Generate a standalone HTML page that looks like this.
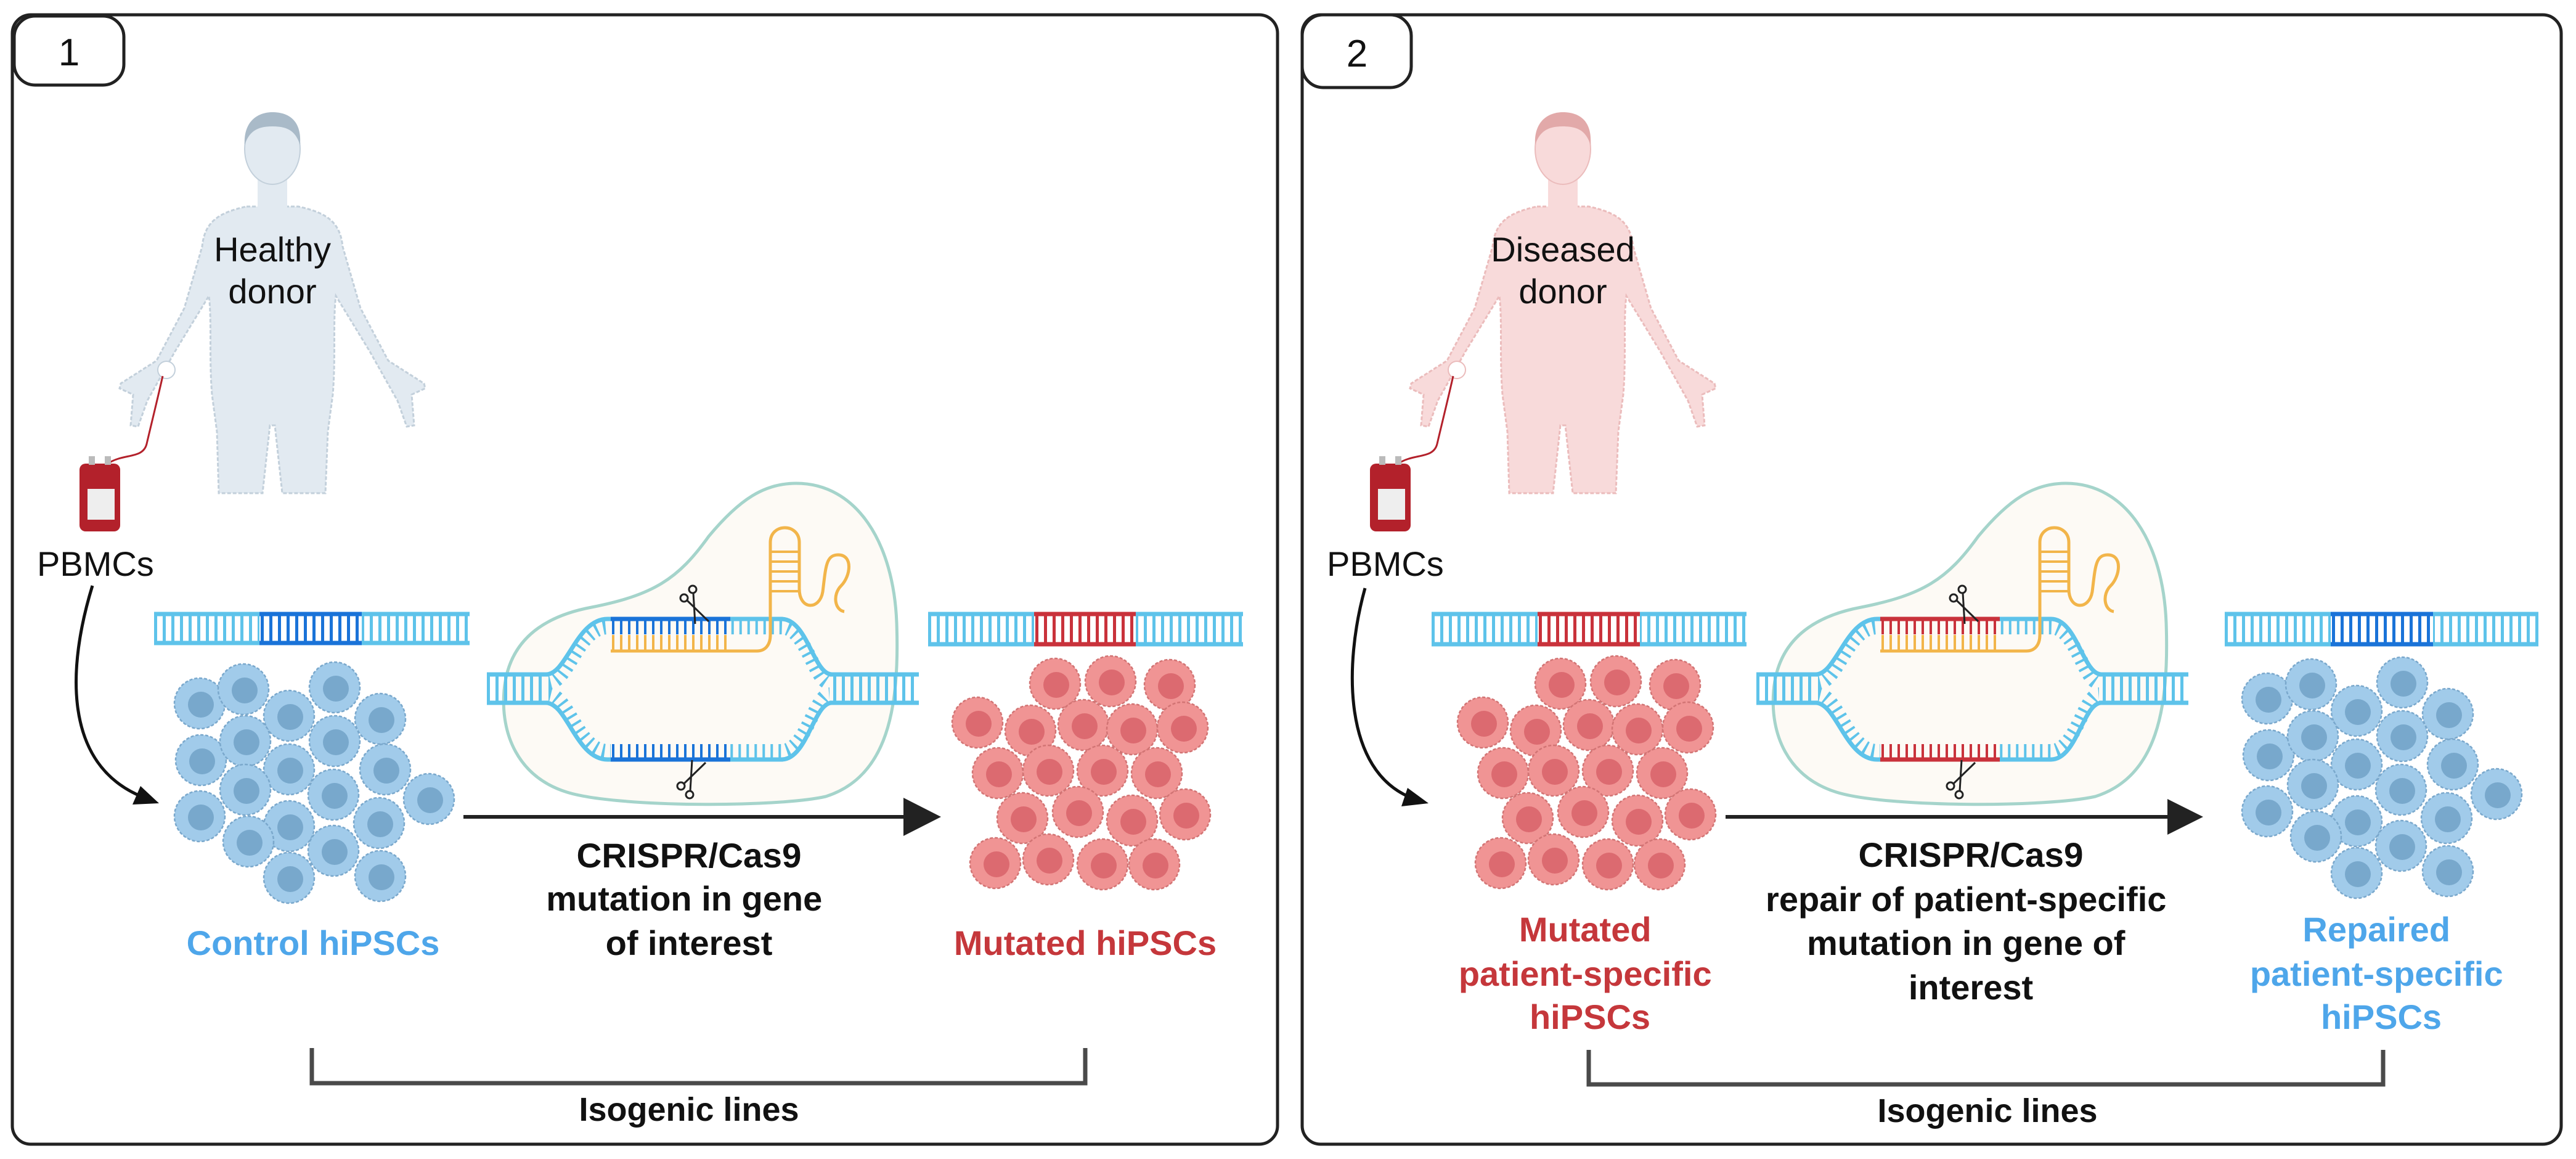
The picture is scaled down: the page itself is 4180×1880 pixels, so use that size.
<!DOCTYPE html>
<html><head><meta charset="utf-8">
<style>
html,body{margin:0;padding:0;background:#fff;}
svg{display:block;}
text{font-family:"Liberation Sans",Arial,sans-serif;}
</style></head>
<body>
<svg width="4180" height="1880" viewBox="0 0 4180 1880" xmlns="http://www.w3.org/2000/svg">
<defs>
<g id="rcell"><circle r="41" fill="#f09494" stroke="#d27474" stroke-width="2.5" stroke-dasharray="5 3"/><circle cx="2" cy="2" r="21" fill="#dc6a70"/></g>
<g id="bcell"><circle r="41" fill="#a1cbea" stroke="#7aa8cc" stroke-width="2.5" stroke-dasharray="5 3"/><circle cx="2" cy="2" r="21" fill="#78a8cc"/></g>
<g id="scis" fill="none" stroke="#222" stroke-width="3">
<circle cx="-20" cy="-30" r="6"/><circle cx="-6" cy="-44" r="6"/>
<line x1="-15" y1="-26" x2="20" y2="8"/><line x1="-5" y1="-38" x2="-2" y2="12"/>
</g>
</defs>

<rect x="20" y="24" width="2053" height="1832" rx="30" fill="#fff" stroke="#222" stroke-width="5"/>
<rect x="23" y="26" width="178" height="112" rx="34" fill="#fff" stroke="#222" stroke-width="5"/>
<text x="112" y="106" font-size="62" text-anchor="middle" fill="#111">1</text>
<rect x="2113" y="24" width="2043" height="1832" rx="30" fill="#fff" stroke="#222" stroke-width="5"/>
<rect x="2113" y="24" width="177" height="118" rx="34" fill="#fff" stroke="#222" stroke-width="5"/>
<text x="2202" y="108" font-size="62" text-anchor="middle" fill="#111">2</text>

<g id="human1">
<path d="M400,335 L484,335 C530,345 552,360 556,400 L585,500 L630,585 L688,622 L690,630 L668,640 L672,690 L660,692 L645,650 L600,570 L545,480 C540,520 545,580 540,640 L532,700 L528,800 L458,800 L446,690 L438,690 L426,800 L355,800 L352,700 L344,640 C339,580 344,520 339,480 L284,570 L239,650 L224,692 L212,690 L216,640 L194,630 L196,622 L254,585 L299,500 L328,400 C332,360 354,345 400,335 Z" fill="#e2eaf1" stroke="#c3d0db" stroke-width="3" stroke-dasharray="6 3"/>
<rect x="418" y="285" width="48" height="60" fill="#e2eaf1"/>
<ellipse cx="442" cy="242" rx="45" ry="57" fill="#e2eaf1" stroke="#c3d0db" stroke-width="2"/>
<path d="M397,235 C395,195 420,182 442,182 C468,182 490,195 487,235 C480,215 470,205 442,205 C415,205 404,215 397,235 Z" fill="#a9bac8"/>
</g>
<text x="442" y="424" font-size="56" text-anchor="middle" fill="#111">Healthy</text>
<text x="442" y="492" font-size="56" text-anchor="middle" fill="#111">donor</text>
<circle cx="270" cy="600" r="14" fill="#fff" stroke="#c3d0db" stroke-width="2"/>
<path d="M264,610 C255,650 245,690 238,720 C232,745 200,735 175,752" fill="none" stroke="#b3212b" stroke-width="3"/>
<rect x="129" y="752" width="66" height="110" rx="10" fill="#b3212b"/>
<rect x="142" y="793" width="44" height="50" fill="#eee"/>
<rect x="144" y="740" width="10" height="14" fill="#bbb"/><rect x="170" y="740" width="10" height="14" fill="#bbb"/>
<text x="60" y="934" font-size="56" fill="#111">PBMCs</text>
<path d="M150,950 C110,1080 100,1240 232,1293" fill="none" stroke="#111" stroke-width="5"/>
<polygon points="258,1303 215,1305 228,1275" fill="#111"/>

<g>
<line x1="250" y1="1019" x2="762" y2="1019" stroke="#5ec3ea" stroke-width="46" stroke-dasharray="5 9"/>
<line x1="250" y1="996" x2="762" y2="996" stroke="#5ec3ea" stroke-width="7"/>
<line x1="250" y1="1043" x2="762" y2="1043" stroke="#5ec3ea" stroke-width="7"/>
<line x1="421" y1="1019" x2="587" y2="1019" stroke="#fff" stroke-width="46"/>
<line x1="423" y1="1019" x2="587" y2="1019" stroke="#1a73d8" stroke-width="46" stroke-dasharray="5 9"/>
<line x1="421" y1="996" x2="587" y2="996" stroke="#1a73d8" stroke-width="7"/>
<line x1="421" y1="1043" x2="587" y2="1043" stroke="#1a73d8" stroke-width="7"/>
</g>
<g>
<line x1="1506" y1="1020" x2="2017" y2="1020" stroke="#5ec3ea" stroke-width="46" stroke-dasharray="5 9"/>
<line x1="1506" y1="996" x2="2017" y2="996" stroke="#5ec3ea" stroke-width="7"/>
<line x1="1506" y1="1045" x2="2017" y2="1045" stroke="#5ec3ea" stroke-width="7"/>
<line x1="1678" y1="1020" x2="1843" y2="1020" stroke="#fff" stroke-width="46"/>
<line x1="1680" y1="1020" x2="1843" y2="1020" stroke="#c9323b" stroke-width="46" stroke-dasharray="5 9"/>
<line x1="1678" y1="996" x2="1843" y2="996" stroke="#c9323b" stroke-width="7"/>
<line x1="1678" y1="1045" x2="1843" y2="1045" stroke="#c9323b" stroke-width="7"/>
</g>

<g id="bclust">
<use href="#bcell" x="324" y="1141"/><use href="#bcell" x="395" y="1118"/><use href="#bcell" x="543" y="1115"/>
<use href="#bcell" x="469" y="1161"/><use href="#bcell" x="617" y="1166"/>
<use href="#bcell" x="326" y="1233"/><use href="#bcell" x="398" y="1202"/><use href="#bcell" x="543" y="1202"/>
<use href="#bcell" x="469" y="1248"/><use href="#bcell" x="625" y="1248"/><use href="#bcell" x="696" y="1296"/>
<use href="#bcell" x="398" y="1281"/><use href="#bcell" x="541" y="1289"/>
<use href="#bcell" x="324" y="1324"/><use href="#bcell" x="469" y="1340"/><use href="#bcell" x="615" y="1335"/>
<use href="#bcell" x="403" y="1365"/><use href="#bcell" x="541" y="1380"/>
<use href="#bcell" x="469" y="1424"/><use href="#bcell" x="617" y="1421"/>
</g>
<g id="rclust">
<use href="#rcell" x="1712" y="1109"/><use href="#rcell" x="1802" y="1105"/><use href="#rcell" x="1898" y="1111"/>
<use href="#rcell" x="1586" y="1172"/><use href="#rcell" x="1672" y="1185"/><use href="#rcell" x="1758" y="1176"/><use href="#rcell" x="1837" y="1183"/><use href="#rcell" x="1919" y="1180"/>
<use href="#rcell" x="1619" y="1254"/><use href="#rcell" x="1701" y="1250"/><use href="#rcell" x="1789" y="1250"/><use href="#rcell" x="1877" y="1254"/>
<use href="#rcell" x="1659" y="1327"/><use href="#rcell" x="1749" y="1317"/><use href="#rcell" x="1837" y="1331"/><use href="#rcell" x="1923" y="1321"/>
<use href="#rcell" x="1615" y="1400"/><use href="#rcell" x="1701" y="1394"/><use href="#rcell" x="1789" y="1402"/><use href="#rcell" x="1873" y="1402"/>
</g>

<g id="cas1">
<path d="M1292,784 C1390,784 1450,880 1455,1010 C1460,1150 1440,1260 1340,1292 C1260,1310 1000,1310 920,1285 C840,1260 812,1190 818,1120 C825,1040 880,1000 960,985 C1060,965 1100,940 1150,870 C1200,810 1240,784 1292,784 Z" fill="#fdfaf5" stroke="#a5d4cb" stroke-width="5"/>
<line x1="790" y1="1117" x2="886" y2="1117" stroke="#5ec3ea" stroke-width="44" stroke-dasharray="5 9"/>
<line x1="790" y1="1094" x2="890" y2="1094" stroke="#5ec3ea" stroke-width="7"/>
<line x1="790" y1="1140" x2="890" y2="1140" stroke="#5ec3ea" stroke-width="7"/>
<line x1="1352" y1="1117" x2="1491" y2="1117" stroke="#5ec3ea" stroke-width="44" stroke-dasharray="5 9"/>
<line x1="1346" y1="1094" x2="1491" y2="1094" stroke="#5ec3ea" stroke-width="7"/>
<line x1="1346" y1="1140" x2="1491" y2="1140" stroke="#5ec3ea" stroke-width="7"/>
<path d="M890,1108 C922,1108 938,1018 986,1018 L1268,1018 C1308,1018 1322,1108 1346,1108" fill="none" stroke="#5ec3ea" stroke-width="22" stroke-dasharray="4 9"/>
<path d="M890,1126 C922,1126 938,1218 986,1218 L1268,1218 C1308,1218 1322,1126 1346,1126" fill="none" stroke="#5ec3ea" stroke-width="22" stroke-dasharray="4 9"/>
<path d="M886,1094 C920,1094 935,1004 986,1004 L1268,1004 C1310,1004 1320,1094 1350,1094" fill="none" stroke="#5ec3ea" stroke-width="7"/>
<path d="M886,1140 C920,1140 935,1232 986,1232 L1268,1232 C1310,1232 1320,1140 1350,1140" fill="none" stroke="#5ec3ea" stroke-width="7"/>
<line x1="991" y1="1017" x2="1185" y2="1017" stroke="#fdfaf5" stroke-width="24"/>
<line x1="993" y1="1017" x2="1185" y2="1017" stroke="#1a73d8" stroke-width="24" stroke-dasharray="4 9"/>
<line x1="991" y1="1004" x2="1185" y2="1004" stroke="#1a73d8" stroke-width="7"/>
<line x1="991" y1="1219" x2="1185" y2="1219" stroke="#fdfaf5" stroke-width="24"/>
<line x1="993" y1="1219" x2="1185" y2="1219" stroke="#1a73d8" stroke-width="24" stroke-dasharray="4 9"/>
<line x1="991" y1="1232" x2="1185" y2="1232" stroke="#1a73d8" stroke-width="7"/>
<line x1="993" y1="1043" x2="1185" y2="1043" stroke="#f2b54a" stroke-width="26" stroke-dasharray="4 9"/>
<path d="M991,1056 L1228,1056 C1242,1056 1250,1046 1250,1030 L1250,880 C1250,848 1297,848 1297,880 L1297,955 C1297,990 1330,990 1335,960 C1340,920 1340,900 1360,900 C1385,900 1380,935 1365,950 C1350,965 1355,990 1370,992" fill="none" stroke="#f2b54a" stroke-width="5"/>
<g stroke="#f2b54a" stroke-width="4">
<line x1="1250" y1="895" x2="1297" y2="895"/><line x1="1250" y1="911" x2="1297" y2="911"/><line x1="1250" y1="927" x2="1297" y2="927"/><line x1="1250" y1="943" x2="1297" y2="943"/><line x1="1250" y1="959" x2="1297" y2="959"/>
</g>
<use href="#scis" x="1130" y="1000"/>
<use href="#scis" transform="translate(1125,1245) scale(1,-1)"/>
</g>

<line x1="752" y1="1325" x2="1470" y2="1325" stroke="#222" stroke-width="6"/>
<polygon points="1466,1294 1527,1325 1466,1356" fill="#222"/>

<text x="1118" y="1407" font-size="56" font-weight="bold" text-anchor="middle" fill="#111" textLength="365" lengthAdjust="spacingAndGlyphs">CRISPR/Cas9</text>
<text font-size="56" font-weight="bold" text-anchor="middle" fill="#111">
<tspan x="1118" y="1477">mutation in gene</tspan>
<tspan x="1118" y="1549">of interest</tspan>
</text>
<text x="508" y="1549" font-size="56" font-weight="bold" text-anchor="middle" fill="#4ea6ea">Control hiPSCs</text>
<text x="1761" y="1549" font-size="56" font-weight="bold" text-anchor="middle" fill="#c5373b">Mutated hiPSCs</text>

<path d="M506,1700 L506,1757 L1761,1757 L1761,1700" fill="none" stroke="#4a4a4a" stroke-width="7"/>
<text x="1118" y="1818" font-size="54" font-weight="bold" text-anchor="middle" fill="#111">Isogenic lines</text>

<g transform="translate(2094,0)">
<path d="M400,335 L484,335 C530,345 552,360 556,400 L585,500 L630,585 L688,622 L690,630 L668,640 L672,690 L660,692 L645,650 L600,570 L545,480 C540,520 545,580 540,640 L532,700 L528,800 L458,800 L446,690 L438,690 L426,800 L355,800 L352,700 L344,640 C339,580 344,520 339,480 L284,570 L239,650 L224,692 L212,690 L216,640 L194,630 L196,622 L254,585 L299,500 L328,400 C332,360 354,345 400,335 Z" fill="#f8dada" stroke="#ebbcbc" stroke-width="3" stroke-dasharray="6 3"/>
<rect x="418" y="285" width="48" height="60" fill="#f8dada"/>
<ellipse cx="442" cy="242" rx="45" ry="57" fill="#f8dada" stroke="#ebbcbc" stroke-width="2"/>
<path d="M397,235 C395,195 420,182 442,182 C468,182 490,195 487,235 C480,215 470,205 442,205 C415,205 404,215 397,235 Z" fill="#e2a9a9"/>
<circle cx="270" cy="600" r="14" fill="#fff" stroke="#ebbcbc" stroke-width="2"/>
<path d="M264,610 C255,650 245,690 238,720 C232,745 200,735 175,752" fill="none" stroke="#b3212b" stroke-width="3"/>
<rect x="129" y="752" width="66" height="110" rx="10" fill="#b3212b"/>
<rect x="142" y="793" width="44" height="50" fill="#eee"/>
<rect x="144" y="740" width="10" height="14" fill="#bbb"/><rect x="170" y="740" width="10" height="14" fill="#bbb"/>
</g>
<text x="2536" y="424" font-size="56" text-anchor="middle" fill="#111">Diseased</text>
<text x="2536" y="492" font-size="56" text-anchor="middle" fill="#111">donor</text>
<text x="2153" y="934" font-size="56" fill="#111">PBMCs</text>
<path d="M2215,954 C2180,1080 2180,1250 2290,1294" fill="none" stroke="#111" stroke-width="5"/>
<polygon points="2318,1303 2274,1308 2284,1278" fill="#111"/>

<g>
<line x1="2323" y1="1020" x2="2834" y2="1020" stroke="#5ec3ea" stroke-width="46" stroke-dasharray="5 9"/>
<line x1="2323" y1="996" x2="2834" y2="996" stroke="#5ec3ea" stroke-width="7"/>
<line x1="2323" y1="1045" x2="2834" y2="1045" stroke="#5ec3ea" stroke-width="7"/>
<line x1="2495" y1="1020" x2="2661" y2="1020" stroke="#fff" stroke-width="46"/>
<line x1="2497" y1="1020" x2="2661" y2="1020" stroke="#c9323b" stroke-width="46" stroke-dasharray="5 9"/>
<line x1="2495" y1="996" x2="2661" y2="996" stroke="#c9323b" stroke-width="7"/>
<line x1="2495" y1="1045" x2="2661" y2="1045" stroke="#c9323b" stroke-width="7"/>
</g>
<g>
<line x1="3610" y1="1020" x2="4119" y2="1020" stroke="#5ec3ea" stroke-width="46" stroke-dasharray="5 9"/>
<line x1="3610" y1="996" x2="4119" y2="996" stroke="#5ec3ea" stroke-width="7"/>
<line x1="3610" y1="1045" x2="4119" y2="1045" stroke="#5ec3ea" stroke-width="7"/>
<line x1="3782" y1="1020" x2="3948" y2="1020" stroke="#fff" stroke-width="46"/>
<line x1="3784" y1="1020" x2="3948" y2="1020" stroke="#1a73d8" stroke-width="46" stroke-dasharray="5 9"/>
<line x1="3782" y1="996" x2="3948" y2="996" stroke="#1a73d8" stroke-width="7"/>
<line x1="3782" y1="1045" x2="3948" y2="1045" stroke="#1a73d8" stroke-width="7"/>
</g>

<use href="#rclust" x="820" y="0"/>
<use href="#bclust" x="3355" y="-8"/>

<g transform="translate(2060,0)">
<path d="M1292,784 C1390,784 1450,880 1455,1010 C1460,1150 1440,1260 1340,1292 C1260,1310 1000,1310 920,1285 C840,1260 812,1190 818,1120 C825,1040 880,1000 960,985 C1060,965 1100,940 1150,870 C1200,810 1240,784 1292,784 Z" fill="#fdfaf5" stroke="#a5d4cb" stroke-width="5"/>
<line x1="790" y1="1117" x2="886" y2="1117" stroke="#5ec3ea" stroke-width="44" stroke-dasharray="5 9"/>
<line x1="790" y1="1094" x2="890" y2="1094" stroke="#5ec3ea" stroke-width="7"/>
<line x1="790" y1="1140" x2="890" y2="1140" stroke="#5ec3ea" stroke-width="7"/>
<line x1="1352" y1="1117" x2="1491" y2="1117" stroke="#5ec3ea" stroke-width="44" stroke-dasharray="5 9"/>
<line x1="1346" y1="1094" x2="1491" y2="1094" stroke="#5ec3ea" stroke-width="7"/>
<line x1="1346" y1="1140" x2="1491" y2="1140" stroke="#5ec3ea" stroke-width="7"/>
<path d="M890,1108 C922,1108 938,1018 986,1018 L1268,1018 C1308,1018 1322,1108 1346,1108" fill="none" stroke="#5ec3ea" stroke-width="22" stroke-dasharray="4 9"/>
<path d="M890,1126 C922,1126 938,1218 986,1218 L1268,1218 C1308,1218 1322,1126 1346,1126" fill="none" stroke="#5ec3ea" stroke-width="22" stroke-dasharray="4 9"/>
<path d="M886,1094 C920,1094 935,1004 986,1004 L1268,1004 C1310,1004 1320,1094 1350,1094" fill="none" stroke="#5ec3ea" stroke-width="7"/>
<path d="M886,1140 C920,1140 935,1232 986,1232 L1268,1232 C1310,1232 1320,1140 1350,1140" fill="none" stroke="#5ec3ea" stroke-width="7"/>
<line x1="991" y1="1017" x2="1185" y2="1017" stroke="#fdfaf5" stroke-width="24"/>
<line x1="993" y1="1017" x2="1185" y2="1017" stroke="#c9323b" stroke-width="24" stroke-dasharray="4 9"/>
<line x1="991" y1="1004" x2="1185" y2="1004" stroke="#c9323b" stroke-width="7"/>
<line x1="991" y1="1219" x2="1185" y2="1219" stroke="#fdfaf5" stroke-width="24"/>
<line x1="993" y1="1219" x2="1185" y2="1219" stroke="#c9323b" stroke-width="24" stroke-dasharray="4 9"/>
<line x1="991" y1="1232" x2="1185" y2="1232" stroke="#c9323b" stroke-width="7"/>
<line x1="993" y1="1043" x2="1185" y2="1043" stroke="#f2b54a" stroke-width="26" stroke-dasharray="4 9"/>
<path d="M991,1056 L1228,1056 C1242,1056 1250,1046 1250,1030 L1250,880 C1250,848 1297,848 1297,880 L1297,955 C1297,990 1330,990 1335,960 C1340,920 1340,900 1360,900 C1385,900 1380,935 1365,950 C1350,965 1355,990 1370,992" fill="none" stroke="#f2b54a" stroke-width="5"/>
<g stroke="#f2b54a" stroke-width="4">
<line x1="1250" y1="895" x2="1297" y2="895"/><line x1="1250" y1="911" x2="1297" y2="911"/><line x1="1250" y1="927" x2="1297" y2="927"/><line x1="1250" y1="943" x2="1297" y2="943"/><line x1="1250" y1="959" x2="1297" y2="959"/>
</g>
<use href="#scis" x="1130" y="1000"/>
<use href="#scis" transform="translate(1125,1245) scale(1,-1)"/>
</g>

<line x1="2800" y1="1325" x2="3520" y2="1325" stroke="#222" stroke-width="6"/>
<polygon points="3517,1296 3575,1325 3517,1354" fill="#222"/>

<text x="3198" y="1406" font-size="56" font-weight="bold" text-anchor="middle" fill="#111" textLength="365" lengthAdjust="spacingAndGlyphs">CRISPR/Cas9</text>
<text font-size="56" font-weight="bold" text-anchor="middle" fill="#111">
<tspan x="3198" y="1478">repair of patient-specific</tspan>
<tspan x="3198" y="1549">mutation in gene of</tspan>
<tspan x="3198" y="1621">interest</tspan>
</text>
<text font-size="56" font-weight="bold" text-anchor="middle" fill="#c5373b">
<tspan x="2580" y="1527">Mutated</tspan>
<tspan x="2580" y="1599">patient-specific</tspan>
<tspan x="2580" y="1669">hiPSCs</tspan>
</text>
<text font-size="56" font-weight="bold" text-anchor="middle" fill="#4ea6ea">
<tspan x="3864" y="1527">Repaired</tspan>
<tspan x="3864" y="1599">patient-specific</tspan>
<tspan x="3864" y="1669">hiPSCs</tspan>
</text>

<path d="M2578,1703 L2578,1759 L3867,1759 L3867,1703" fill="none" stroke="#4a4a4a" stroke-width="7"/>
<text x="3225" y="1820" font-size="54" font-weight="bold" text-anchor="middle" fill="#111">Isogenic lines</text>
</svg>
</body></html>
